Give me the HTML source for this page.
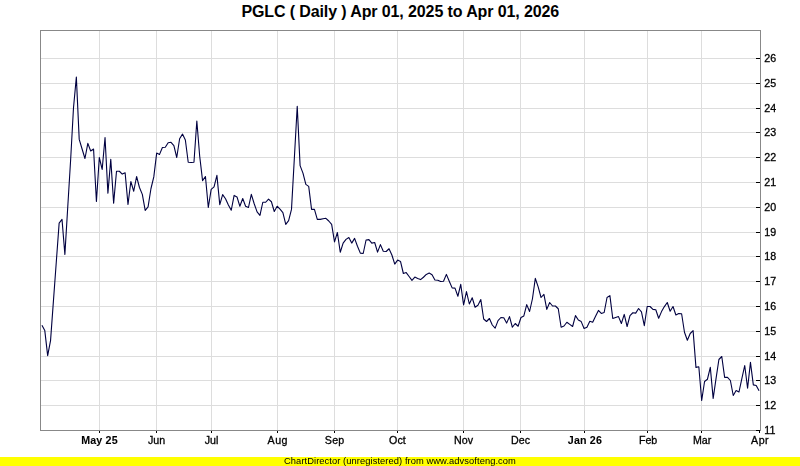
<!DOCTYPE html>
<html><head><meta charset="utf-8"><style>
html,body{margin:0;padding:0;background:#fff;}
body{position:relative;width:800px;height:466px;overflow:hidden}
svg{display:block;position:absolute;left:0;top:28px;will-change:transform;transform:translateZ(0)}
#ttl{position:absolute;left:0;top:0;width:800px;height:28px;text-align:left;padding-left:241.4px;font:bold 16px/1 "Liberation Sans",sans-serif;color:#000;white-space:pre;padding-top:4.3px;box-sizing:border-box;letter-spacing:-0.112px}
text{font-family:"Liberation Sans",sans-serif;fill:#000}
.g{stroke:#dddddd;stroke-width:1;shape-rendering:crispEdges}
.t{stroke:#000;stroke-width:1;shape-rendering:crispEdges}
.a{stroke:#888888;stroke-width:1;shape-rendering:crispEdges;fill:none}
.l{font-size:10.67px;stroke:#000;stroke-width:0.3px;paint-order:stroke}
.b{font-weight:bold;stroke-width:0.08px}
</style></head><body>
<div id="ttl">PGLC ( Daily ) Apr 01, 2025 to Apr 01, 2026</div>
<svg width="800" height="438" viewBox="0 28 800 438">
<rect x="0" y="0" width="800" height="466" fill="#ffffff"/>
<line x1="41" y1="405.5" x2="756" y2="405.5" class="g"/>
<line x1="41" y1="380.5" x2="756" y2="380.5" class="g"/>
<line x1="41" y1="356.5" x2="756" y2="356.5" class="g"/>
<line x1="41" y1="331.5" x2="756" y2="331.5" class="g"/>
<line x1="41" y1="306.5" x2="756" y2="306.5" class="g"/>
<line x1="41" y1="281.5" x2="756" y2="281.5" class="g"/>
<line x1="41" y1="256.5" x2="756" y2="256.5" class="g"/>
<line x1="41" y1="232.5" x2="756" y2="232.5" class="g"/>
<line x1="41" y1="207.5" x2="756" y2="207.5" class="g"/>
<line x1="41" y1="182.5" x2="756" y2="182.5" class="g"/>
<line x1="41" y1="157.5" x2="756" y2="157.5" class="g"/>
<line x1="41" y1="132.5" x2="756" y2="132.5" class="g"/>
<line x1="41" y1="108.5" x2="756" y2="108.5" class="g"/>
<line x1="41" y1="83.5" x2="756" y2="83.5" class="g"/>
<line x1="41" y1="58.5" x2="756" y2="58.5" class="g"/>
<line x1="99.5" y1="31" x2="99.5" y2="430" class="g"/>
<line x1="156.5" y1="31" x2="156.5" y2="430" class="g"/>
<line x1="211.5" y1="31" x2="211.5" y2="430" class="g"/>
<line x1="277.5" y1="31" x2="277.5" y2="430" class="g"/>
<line x1="334.5" y1="31" x2="334.5" y2="430" class="g"/>
<line x1="397.5" y1="31" x2="397.5" y2="430" class="g"/>
<line x1="463.5" y1="31" x2="463.5" y2="430" class="g"/>
<line x1="520.5" y1="31" x2="520.5" y2="430" class="g"/>
<line x1="584.5" y1="31" x2="584.5" y2="430" class="g"/>
<line x1="647.5" y1="31" x2="647.5" y2="430" class="g"/>
<line x1="701.5" y1="31" x2="701.5" y2="430" class="g"/>
<rect x="40.5" y="30.5" width="720" height="400" class="a"/>
<line x1="756" y1="430.5" x2="760" y2="430.5" class="t"/>
<text x="764.3" y="434.1" class="l">11</text>
<line x1="756" y1="405.5" x2="760" y2="405.5" class="t"/>
<text x="764.3" y="409.1" class="l">12</text>
<line x1="756" y1="380.5" x2="760" y2="380.5" class="t"/>
<text x="764.3" y="384.1" class="l">13</text>
<line x1="756" y1="356.5" x2="760" y2="356.5" class="t"/>
<text x="764.3" y="360.1" class="l">14</text>
<line x1="756" y1="331.5" x2="760" y2="331.5" class="t"/>
<text x="764.3" y="335.1" class="l">15</text>
<line x1="756" y1="306.5" x2="760" y2="306.5" class="t"/>
<text x="764.3" y="310.1" class="l">16</text>
<line x1="756" y1="281.5" x2="760" y2="281.5" class="t"/>
<text x="764.3" y="285.1" class="l">17</text>
<line x1="756" y1="256.5" x2="760" y2="256.5" class="t"/>
<text x="764.3" y="260.1" class="l">18</text>
<line x1="756" y1="232.5" x2="760" y2="232.5" class="t"/>
<text x="764.3" y="236.1" class="l">19</text>
<line x1="756" y1="207.5" x2="760" y2="207.5" class="t"/>
<text x="764.3" y="211.1" class="l">20</text>
<line x1="756" y1="182.5" x2="760" y2="182.5" class="t"/>
<text x="764.3" y="186.1" class="l">21</text>
<line x1="756" y1="157.5" x2="760" y2="157.5" class="t"/>
<text x="764.3" y="161.1" class="l">22</text>
<line x1="756" y1="132.5" x2="760" y2="132.5" class="t"/>
<text x="764.3" y="136.1" class="l">23</text>
<line x1="756" y1="108.5" x2="760" y2="108.5" class="t"/>
<text x="764.3" y="112.1" class="l">24</text>
<line x1="756" y1="83.5" x2="760" y2="83.5" class="t"/>
<text x="764.3" y="87.1" class="l">25</text>
<line x1="756" y1="58.5" x2="760" y2="58.5" class="t"/>
<text x="764.3" y="62.1" class="l">26</text>
<line x1="99.5" y1="431" x2="99.5" y2="433" class="t"/>
<text x="99.50" y="444.3" class="l b" text-anchor="middle" letter-spacing="0.2">May 25</text>
<line x1="156.5" y1="431" x2="156.5" y2="433" class="t"/>
<text x="156.50" y="444.3" class="l" text-anchor="middle" letter-spacing="0">Jun</text>
<line x1="211.5" y1="431" x2="211.5" y2="433" class="t"/>
<text x="211.50" y="444.3" class="l" text-anchor="middle" letter-spacing="0">Jul</text>
<line x1="277.5" y1="431" x2="277.5" y2="433" class="t"/>
<text x="277.80" y="444.3" class="l" text-anchor="middle" letter-spacing="0.5">Aug</text>
<line x1="334.5" y1="431" x2="334.5" y2="433" class="t"/>
<text x="334.70" y="444.3" class="l" text-anchor="middle" letter-spacing="0.25">Sep</text>
<line x1="397.5" y1="431" x2="397.5" y2="433" class="t"/>
<text x="397.40" y="444.3" class="l" text-anchor="middle" letter-spacing="0">Oct</text>
<line x1="463.5" y1="431" x2="463.5" y2="433" class="t"/>
<text x="463.50" y="444.3" class="l" text-anchor="middle" letter-spacing="0">Nov</text>
<line x1="520.5" y1="431" x2="520.5" y2="433" class="t"/>
<text x="520.50" y="444.3" class="l" text-anchor="middle" letter-spacing="0">Dec</text>
<line x1="584.5" y1="431" x2="584.5" y2="433" class="t"/>
<text x="584.95" y="444.3" class="l b" text-anchor="middle" letter-spacing="0.2">Jan 26</text>
<line x1="647.5" y1="431" x2="647.5" y2="433" class="t"/>
<text x="648.10" y="444.3" class="l" text-anchor="middle" letter-spacing="0">Feb</text>
<line x1="701.5" y1="431" x2="701.5" y2="433" class="t"/>
<text x="702.10" y="444.3" class="l" text-anchor="middle" letter-spacing="0">Mar</text>
<line x1="759.5" y1="431" x2="759.5" y2="433" class="t"/>
<text x="760.10" y="444.3" class="l" text-anchor="middle" letter-spacing="0.5">Apr</text>
<polyline points="41.93,325.25 44.80,330.60 47.67,355.60 50.54,340.60 53.40,301.40 56.27,262.30 59.14,223.10 62.01,219.40 64.88,254.40 67.75,207.00 70.62,160.00 73.48,108.00 76.35,77.10 79.22,139.40 82.09,149.00 84.96,158.50 87.83,143.40 90.69,151.00 93.56,149.00 96.43,201.50 99.30,157.50 102.17,169.40 105.04,137.50 107.91,193.10 110.77,159.40 113.64,203.10 116.51,171.25 119.38,171.25 122.25,174.10 125.12,172.75 127.99,204.40 130.85,181.50 133.72,191.25 136.59,176.50 139.46,187.50 142.33,194.40 145.20,210.40 148.07,206.90 150.93,188.75 153.80,176.90 156.67,153.10 159.54,154.40 162.41,147.50 165.28,147.25 168.15,142.70 171.01,142.30 173.88,145.60 176.75,157.50 179.62,138.75 182.49,134.10 185.36,140.00 188.22,162.25 191.09,162.50 193.96,162.25 196.83,121.00 199.70,156.25 202.57,180.60 205.44,176.50 208.30,207.50 211.17,189.40 214.04,186.90 216.91,175.40 219.78,204.60 222.65,194.60 225.52,198.75 228.38,205.00 231.25,210.25 234.12,195.40 236.99,196.90 239.86,206.25 242.73,198.50 245.60,206.25 248.46,207.50 251.33,194.40 254.20,203.75 257.07,211.90 259.94,215.40 262.81,202.25 265.68,202.25 268.54,199.10 271.41,201.75 274.28,211.50 277.15,206.25 280.02,209.20 282.89,212.60 285.75,224.40 288.62,220.60 291.49,209.40 294.36,158.00 297.23,106.25 300.10,165.60 302.97,173.10 305.83,184.40 308.70,186.40 311.57,209.40 314.44,209.40 317.31,219.40 320.18,219.40 323.05,218.75 325.91,218.30 328.78,221.00 331.65,224.40 334.52,241.90 337.39,232.50 340.26,252.25 343.13,243.10 345.99,239.40 348.86,237.50 351.73,243.10 354.60,238.40 357.47,246.25 360.34,253.10 363.20,253.50 366.07,240.00 368.94,239.60 371.81,243.10 374.68,242.50 377.55,252.10 380.42,244.60 383.28,251.25 386.15,251.50 389.02,248.75 391.89,255.00 394.76,264.10 397.63,260.10 400.50,261.40 403.36,273.50 406.23,272.60 409.10,276.50 411.97,280.40 414.84,277.10 417.71,278.50 420.58,279.60 423.44,277.25 426.31,274.40 429.18,273.10 432.05,274.75 434.92,280.00 437.79,280.25 440.66,281.50 443.52,281.25 446.39,274.40 449.26,281.25 452.13,287.90 455.00,288.10 457.87,296.25 460.73,284.40 463.60,305.00 466.47,291.60 469.34,304.00 472.21,297.75 475.08,307.25 477.95,305.20 480.81,299.60 483.68,319.00 486.55,321.50 489.42,318.50 492.29,325.00 495.16,328.10 498.03,320.60 500.89,317.50 503.76,317.75 506.63,323.10 509.50,316.60 512.37,327.25 515.24,323.50 518.11,326.25 520.97,317.50 523.84,315.90 526.71,304.60 529.58,311.50 532.45,298.75 535.32,278.40 538.18,286.90 541.05,297.50 543.92,294.40 546.79,309.40 549.66,302.50 552.53,306.00 555.40,306.00 558.26,308.75 561.13,327.25 564.00,326.00 566.87,322.25 569.74,324.40 572.61,326.50 575.48,315.60 578.34,320.00 581.21,321.60 584.08,328.50 586.95,327.25 589.82,321.25 592.69,322.25 595.56,316.25 598.42,310.40 601.29,313.40 604.16,312.50 607.03,297.50 609.90,295.60 612.77,318.50 615.64,317.50 618.50,316.60 621.37,323.50 624.24,314.40 627.11,326.50 629.98,315.60 632.85,312.75 635.71,313.10 638.58,308.50 641.45,311.90 644.32,325.60 647.19,306.50 650.06,306.50 652.93,309.40 655.79,309.75 658.66,318.25 661.53,311.60 664.40,306.60 667.27,302.50 670.14,311.25 673.01,306.50 675.87,315.00 678.74,313.50 681.61,313.75 684.48,332.25 687.35,340.25 690.22,333.50 693.09,330.60 695.95,367.40 698.82,366.75 701.69,400.50 704.56,381.50 707.43,379.25 710.30,367.40 713.17,398.40 716.03,378.60 718.90,359.50 721.77,356.50 724.64,377.40 727.51,377.40 730.38,380.50 733.24,395.50 736.11,390.50 738.98,392.00 741.85,378.60 744.72,365.50 747.59,388.25 750.46,362.40 753.32,384.90 756.19,385.50 759.06,390.75" fill="none" stroke="#000040" stroke-width="1.1" stroke-linejoin="round"/>
<rect x="0" y="457" width="800" height="9" fill="#ffff00"/>
<text x="400" y="464.3" text-anchor="middle" style="font-size:9.33px" letter-spacing="0.073">ChartDirector (unregistered) from www.advsofteng.com</text>
</svg>
</body></html>
